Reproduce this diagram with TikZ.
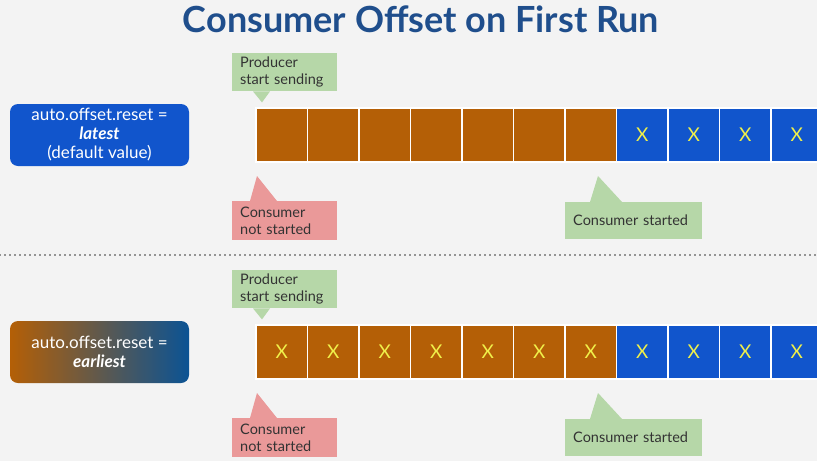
\documentclass[tikz,border=0pt]{standalone}
\usepackage{fontspec}
\setmainfont{Lato}
\usetikzlibrary{positioning}

\definecolor{fundo}{HTML}{F3F3F3}
\definecolor{titulo}{HTML}{1F4E8C}
\definecolor{marrom}{HTML}{B45F06}
\definecolor{azul}{HTML}{1155CC}
\definecolor{azulesc}{HTML}{0B5394}
\definecolor{verde}{HTML}{B6D7A8}
\definecolor{rosa}{HTML}{EA9999}
\definecolor{amarelo}{HTML}{F0F04A}
\definecolor{texto}{HTML}{333333}

\tikzset{
  celula/.style={minimum width=51.5pt, minimum height=54pt, inner sep=0pt,
    draw=white, line width=1.2pt, text=amarelo, font=\fontsize{19}{22}\selectfont},
  balao/.style={anchor=north west, align=left, inner xsep=8pt, inner ysep=3pt,
    text=texto, font=\fontsize{14.5}{17}\selectfont},
  caixa/.style={rounded corners=8pt, minimum width=179pt, minimum height=62pt,
    align=center, text=white, font=\fontsize{17}{19}\selectfont},
}

\begin{document}
\begin{tikzpicture}[x=1pt, y=-1pt]

\fill[fundo] (0,0) rectangle (817,461);
\useasboundingbox (0,0) rectangle (817,461);

% titulo
	\node[text=titulo, font=\fontsize{36}{42}\bfseries\selectfont] (titulo) at (421,19) {Consumer Offset on First Run};

% configuracoes
	\node[caixa, fill=azul] (cfgA) at (99.5,135) {auto.offset.reset =\\\textbf{\textit{latest}}\\(default value)};
	\node[caixa, left color=marrom, right color=azulesc] (cfgB) at (99.5,352) {auto.offset.reset =\\\textbf{\textit{earliest}}};

% mensagens
	\foreach \i in {0,...,6}
		\node[celula, fill=marrom] (a\i) at ({281.75+51.5*\i},135) {};
	\foreach \i in {7,...,10}
		\node[celula, fill=azul] (a\i) at ({281.75+51.5*\i},135) {X};
	\foreach \i in {0,...,6}
		\node[celula, fill=marrom] (b\i) at ({281.75+51.5*\i},352) {X};
	\foreach \i in {7,...,10}
		\node[celula, fill=azul] (b\i) at ({281.75+51.5*\i},352) {X};

% baloes
	\foreach \r/\dy in {A/0, B/217} {
		\node[balao, fill=verde, text width=89pt, minimum height=38pt] (prod\r) at (232,{53+\dy}) {Producer\\start sending};
		\fill[verde] ([xshift=21pt]prod\r.south west) -- ([xshift=30pt,yshift=-11pt]prod\r.south west) -- ([xshift=38pt]prod\r.south west) -- cycle;
		\node[balao, fill=rosa, text width=89pt, minimum height=39pt] (nao\r) at (232,{201+\dy}) {Consumer\\not started};
		\fill[rosa] ([xshift=18pt]nao\r.north west) -- ([xshift=25pt,yshift=25pt]nao\r.north west) -- ([xshift=45pt]nao\r.north west) -- cycle;
		\node[balao, fill=verde, text width=121pt, minimum height=37pt] (cons\r) at (565,{202+\dy}) {Consumer started};
		\fill[verde] ([xshift=25pt]cons\r.north west) -- ([xshift=33pt,yshift=26pt]cons\r.north west) -- ([xshift=57pt]cons\r.north west) -- cycle;
	}

% separador
	\coordinate (sepL) at (0,255);
	\coordinate (sepR) at (817,255);
	\draw[texto, line width=1.6pt, line cap=round, dash pattern=on 0pt off 5pt] (sepL) -- (sepR);

\end{tikzpicture}
\end{document}
